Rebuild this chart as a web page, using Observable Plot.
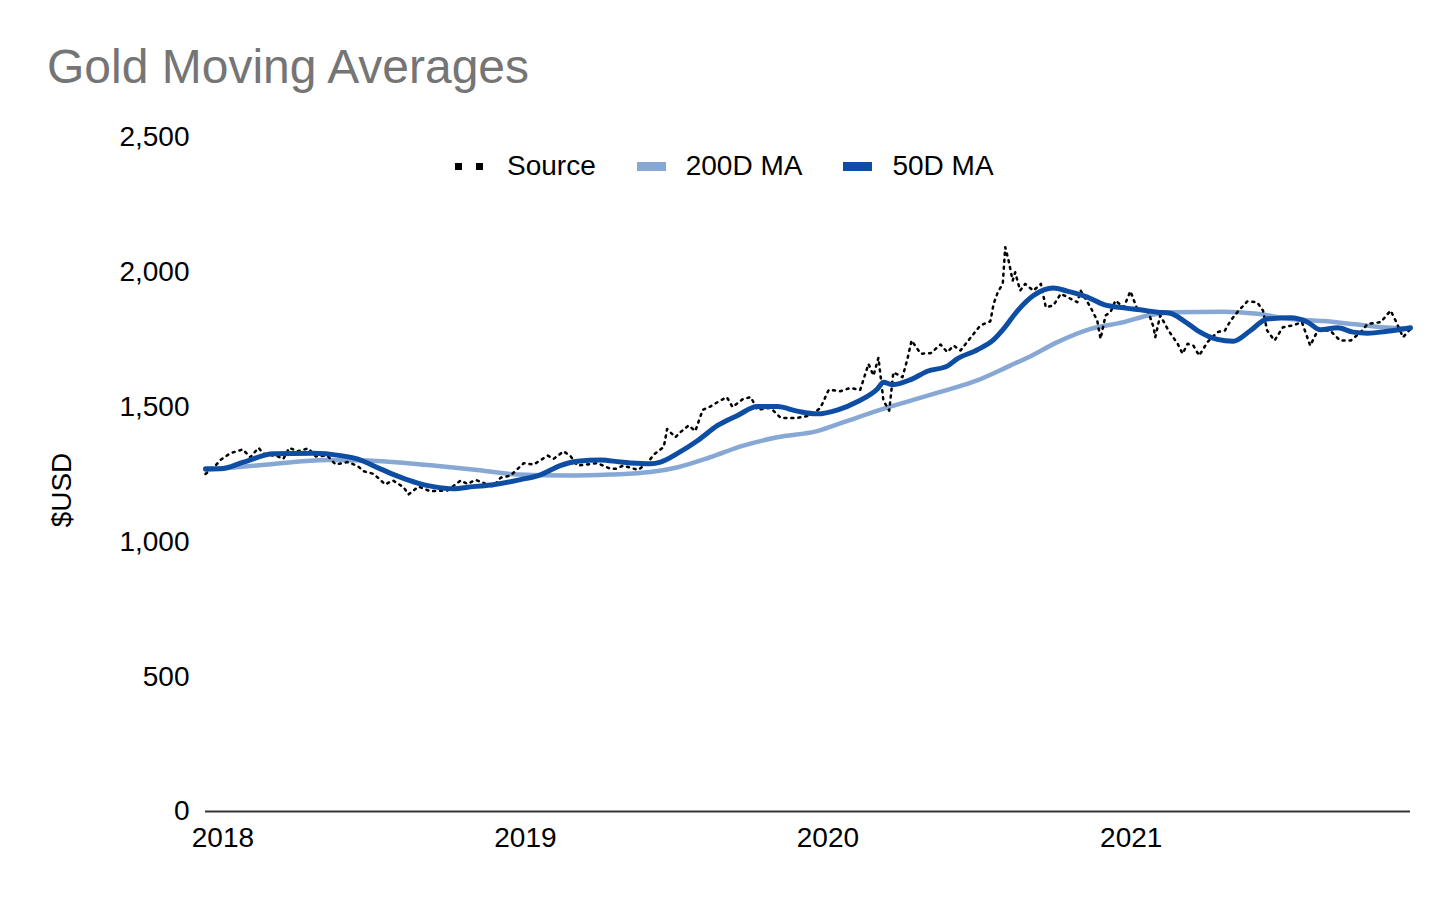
<!DOCTYPE html>
<html>
<head>
<meta charset="utf-8">
<script src="https://cdn.jsdelivr.net/npm/d3@7"></script>
<script src="https://cdn.jsdelivr.net/npm/@observablehq/plot@0.6"></script>
<style>
  html, body { margin: 0; padding: 0; background: #ffffff; }
  #wrap { position: relative; width: 1456px; height: 900px; font-family: "Liberation Sans", Arial, sans-serif; }
  #title { position: absolute; left: 47px; top: 43px; font-size: 48px; line-height: 48px; color: #757575; white-space: nowrap; }
  #chart { position: absolute; left: 0; top: 100px; }
  #ylabel { position: absolute; left: 62px; top: 490px; font-size: 28px; line-height: 28px; color: #000; white-space: nowrap; transform: translate(-50%, -50%) rotate(-90deg); }
  #legend { position: absolute; left: 455px; top: 152px; height: 28px; display: flex; align-items: center; font-size: 28px; line-height: 28px; color: #000; white-space: nowrap; }
  .item { display: flex; align-items: center; margin-right: 41px; }
  .sq { display: inline-block; width: 7px; height: 7px; background: #000; }
  .sw { display: inline-block; width: 29px; height: 9px; }
</style>
</head>
<body>
<div id="wrap">
  <div id="title">Gold Moving Averages</div>
  <div id="chart"></div>
  <div id="ylabel">$USD</div>
  <div id="legend"></div>
</div>
<script>
// ---- Data ----
const seriesNames = ["Source", "200D MA", "50D MA"];
const seriesColors = ["#000000", "#87a8d4", "#0d4da4"];

const sourceDates = [
  "2017-12-11","2017-12-23","2017-12-29","2018-01-10","2018-01-25","2018-02-03","2018-02-13","2018-02-19",
  "2018-03-08","2018-03-15","2018-03-22","2018-04-01","2018-04-14","2018-04-23","2018-05-07","2018-05-17",
  "2018-05-31","2018-06-12","2018-06-20","2018-07-02","2018-07-16","2018-07-25","2018-08-07","2018-08-13",
  "2018-08-25","2018-09-08","2018-09-29","2018-10-15","2018-10-23","2018-11-02","2018-11-23","2018-12-02",
  "2018-12-14","2018-12-30","2019-01-11","2019-01-28","2019-02-04","2019-02-16","2019-02-24","2019-03-05",
  "2019-03-29","2019-04-14","2019-04-20","2019-04-29","2019-05-17","2019-05-28","2019-06-05","2019-06-17",
  "2019-06-21","2019-07-01","2019-07-07","2019-07-17","2019-07-25","2019-08-03","2019-08-12","2019-08-24",
  "2019-09-01","2019-09-08","2019-09-21","2019-09-30","2019-10-08","2019-10-24","2019-11-05","2019-11-25",
  "2019-12-11","2019-12-23","2020-01-02","2020-01-16","2020-01-28","2020-02-09","2020-02-19","2020-02-25",
  "2020-03-02","2020-03-08","2020-03-15","2020-03-20","2020-03-31","2020-04-06","2020-04-11","2020-04-22",
  "2020-05-04","2020-05-16","2020-05-24","2020-06-01","2020-06-09","2020-06-21","2020-07-03","2020-07-15",
  "2020-07-19","2020-07-24","2020-07-30","2020-08-02","2020-08-06","2020-08-11","2020-08-14","2020-08-20",
  "2020-08-26","2020-09-05","2020-09-14","2020-09-20","2020-09-29","2020-10-08","2020-10-16","2020-10-28",
  "2020-11-01","2020-11-13","2020-11-21","2020-11-25","2020-12-01","2020-12-07","2020-12-13","2020-12-23",
  "2020-12-31","2021-01-09","2021-01-21","2021-01-28","2021-01-30","2021-02-05","2021-02-15","2021-02-26",
  "2021-03-04","2021-03-10","2021-03-17","2021-03-24","2021-04-03","2021-04-15","2021-04-24","2021-05-01",
  "2021-05-09","2021-05-21","2021-06-02","2021-06-09","2021-06-14","2021-06-23","2021-07-03","2021-07-15",
  "2021-07-26","2021-08-05","2021-08-14","2021-08-29","2021-09-10","2021-09-23","2021-10-05","2021-10-13",
  "2021-10-29","2021-11-10","2021-11-16","2021-11-25","2021-12-04"
];
const sourceValues = [
  1252,1283,1304,1329,1343,1314,1349,1327,
  1317,1308,1349,1336,1347,1317,1320,1287,
  1296,1283,1262,1252,1213,1228,1203,1176,
  1205,1188,1191,1228,1215,1230,1205,1238,
  1246,1292,1287,1320,1308,1336,1320,1283,
  1292,1271,1271,1283,1267,1292,1324,1352,
  1419,1388,1407,1432,1411,1490,1502,1524,
  1537,1500,1531,1537,1490,1497,1460,1460,
  1469,1497,1564,1559,1571,1564,1660,1617,
  1683,1524,1487,1629,1611,1679,1747,1698,
  1700,1732,1704,1728,1710,1757,1803,1818,
  1883,1926,1957,2093,2044,1969,2000,1932,
  1957,1932,1957,1870,1877,1920,1908,1889,
  1932,1870,1821,1753,1840,1852,1895,1870,
  1930,1858,1858,1796,1759,1840,1784,1735,
  1698,1735,1728,1691,1741,1778,1784,1821,
  1852,1892,1889,1858,1784,1747,1796,1803,
  1815,1728,1784,1784,1747,1747,1778,1808,
  1815,1858,1821,1759,1790
];

const ma200Dates = [
  "2017-12-11","2018-02-24","2018-05-07","2018-06-24","2018-09-12","2018-11-04","2018-12-22","2019-02-21",
  "2019-04-14","2019-06-01","2019-07-04","2019-08-12","2019-09-21","2019-11-01","2019-12-19","2020-01-20",
  "2020-03-01","2020-04-10","2020-05-19","2020-06-29","2020-08-08","2020-09-01","2020-10-04","2020-11-13",
  "2020-12-23","2021-01-21","2021-02-21","2021-04-22","2021-06-02","2021-07-12","2021-08-21","2021-10-01",
  "2021-11-10","2021-12-04"
];
const ma200Values = [
  1267,1287,1304,1302,1283,1267,1250,1246,
  1250,1259,1277,1314,1357,1388,1411,1444,
  1487,1524,1559,1599,1654,1688,1741,1790,
  1815,1840,1852,1854,1846,1827,1819,1806,
  1794,1792
];

const ma50Dates = [
  "2017-12-11","2017-12-29","2018-01-26","2018-03-03","2018-04-20","2018-05-23","2018-06-12","2018-07-10",
  "2018-08-03","2018-08-24","2018-09-12","2018-10-06","2018-10-30","2018-11-23","2018-12-26","2019-01-19",
  "2019-02-12","2019-03-05","2019-04-02","2019-04-26","2019-05-08","2019-06-01","2019-06-13","2019-07-04",
  "2019-07-28","2019-08-21","2019-09-14","2019-10-08","2019-11-01","2019-11-25","2019-12-19","2020-01-13",
  "2020-02-06","2020-03-01","2020-03-08","2020-03-19","2020-04-10","2020-04-30","2020-05-24","2020-06-05",
  "2020-06-29","2020-07-19","2020-07-31","2020-08-17","2020-09-05","2020-09-29","2020-10-16","2020-11-09",
  "2020-11-29","2020-12-23","2021-01-12","2021-02-02","2021-02-17","2021-03-05","2021-03-22","2021-04-15",
  "2021-05-04","2021-05-25","2021-06-14","2021-07-12","2021-08-02","2021-08-17","2021-09-07","2021-09-26",
  "2021-10-13","2021-11-06","2021-12-04"
];
const ma50Values = [
  1271,1271,1296,1327,1329,1320,1308,1271,
  1240,1218,1205,1197,1205,1212,1231,1249,
  1283,1299,1304,1296,1293,1290,1296,1329,
  1376,1432,1469,1502,1502,1485,1475,1490,
  1521,1568,1592,1583,1602,1633,1652,1679,
  1712,1750,1790,1858,1914,1942,1930,1908,
  1880,1868,1861,1852,1848,1821,1784,1751,
  1744,1784,1827,1831,1815,1787,1794,1778,
  1774,1781,1794
];

const yTicks = [0, 500, 1000, 1500, 2000, 2500];
const xTicks = ["2018-01-01", "2019-01-01", "2020-01-01", "2021-01-01"];
const xDomain = ["2017-12-11", "2021-12-04"];

// ---- Build tables ----
const parse = d3.utcParse("%Y-%m-%d");
const toRows = (dates, values) => dates.map((d, i) => ({date: parse(d), value: values[i]}));
const source = toRows(sourceDates, sourceValues);
const ma200 = toRows(ma200Dates, ma200Values);
const ma50 = toRows(ma50Dates, ma50Values);

const chart = Plot.plot({
  width: 1456,
  height: 800,
  marginTop: 37,
  marginBottom: 89,
  marginLeft: 205,
  marginRight: 46,
  style: {fontFamily: "'Liberation Sans', Arial, sans-serif", fontSize: "28px", color: "#000", background: "#fff"},
  x: {type: "utc", domain: xDomain.map(parse)},
  y: {domain: [0, 2500]},
  marks: [
    Plot.axisY({
      ticks: yTicks, tickFormat: d3.format(","), tickSize: 0, tickPadding: 16, fontSize: 28, label: null
    }),
    Plot.axisX({
      ticks: xTicks.map(parse), tickFormat: d3.utcFormat("%Y"), tickSize: 0, tickPadding: 16, fontSize: 28, label: null
    }),
    Plot.line(ma200, {x: "date", y: "value", stroke: seriesColors[1], strokeWidth: 4.5, curve: "monotone-x"}),
    Plot.line(source, {x: "date", y: "value", stroke: seriesColors[0], strokeWidth: 2.5, strokeDasharray: "2,5", curve: "linear"}),
    Plot.line(ma50, {x: "date", y: "value", stroke: seriesColors[2], strokeWidth: 5, curve: "monotone-x"}),
    Plot.ruleY([0], {stroke: "#333333", strokeWidth: 2})
  ]
});
document.getElementById("chart").appendChild(chart);

// ---- Legend ----
const legend = document.getElementById("legend");
seriesNames.forEach((name, i) => {
  const item = document.createElement("div");
  item.className = "item";
  if (i === 0) {
    const a = document.createElement("span"); a.className = "sq";
    const b = document.createElement("span"); b.className = "sq"; b.style.marginLeft = "14px";
    item.appendChild(a); item.appendChild(b);
    const t = document.createElement("span"); t.textContent = name; t.style.marginLeft = "24px";
    item.appendChild(t);
  } else {
    const s = document.createElement("span"); s.className = "sw"; s.style.background = seriesColors[i];
    item.appendChild(s);
    const t = document.createElement("span"); t.textContent = name; t.style.marginLeft = "20px";
    item.appendChild(t);
  }
  legend.appendChild(item);
});
</script>
</body>
</html>
